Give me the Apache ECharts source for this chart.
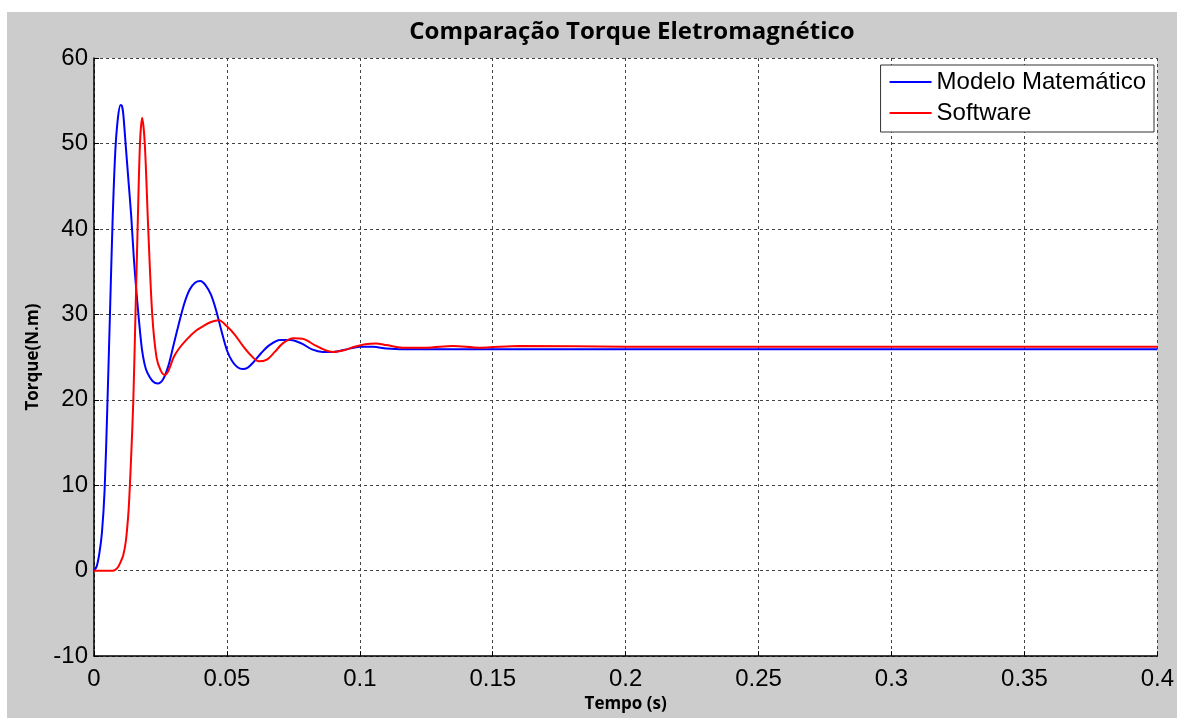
<!DOCTYPE html>
<html>
<head>
<meta charset="utf-8">
<script src="https://cdn.jsdelivr.net/npm/echarts@6/dist/echarts.min.js"></script>
<style>
  html, body { margin: 0; padding: 0; background: #fff; }
  #chart { position: absolute; left: 7px; top: 12px; width: 1170px; height: 706px; background: #cccccc; }
</style>
</head>
<body>
<div id="chart"></div>
<script>
// Modelo Matemático (blue)
const timeModelo = [0, 0.001, 0.002, 0.003, 0.004, 0.005, 0.006, 0.007, 0.008, 0.009, 0.010, 0.0105, 0.011,
  0.012, 0.013, 0.014, 0.015, 0.016, 0.017, 0.018, 0.019, 0.020, 0.022, 0.024, 0.026, 0.028, 0.030,
  0.032, 0.034, 0.036, 0.038, 0.040, 0.042, 0.044, 0.046, 0.048, 0.050, 0.052, 0.054, 0.056, 0.058,
  0.060, 0.063, 0.066, 0.070, 0.074, 0.078, 0.082, 0.086, 0.090, 0.095, 0.100, 0.105, 0.110, 0.120,
  0.150, 0.200, 0.300, 0.400];
const torqueModelo = [0, 0.5, 2, 4.5, 9.5, 19, 30, 41, 49, 53, 54.5, 54.4, 53.5,
  49.5, 45.5, 41.5, 36.5, 32.5, 29, 26, 24.2, 23.2, 22.2, 21.9, 22.4, 24, 26.5,
  29, 31.3, 32.9, 33.7, 33.9, 33.4, 32.3, 30.4, 28, 25.8, 24.5, 23.8, 23.6, 23.8,
  24.4, 25.5, 26.4, 27.0, 27.0, 26.6, 25.9, 25.6, 25.6, 25.9, 26.2, 26.2, 26.0, 25.9,
  25.9, 25.9, 25.9, 25.9];

// Software (red)
const timeSoftware = [0, 0.007, 0.008, 0.009, 0.010, 0.011, 0.012, 0.013, 0.0135, 0.014, 0.0148, 0.0156,
  0.0164, 0.0173, 0.0181, 0.0191, 0.0204, 0.0219, 0.0235, 0.025, 0.0266, 0.028, 0.030, 0.032, 0.035,
  0.038, 0.041, 0.044, 0.047, 0.050, 0.053, 0.056, 0.059, 0.062, 0.065, 0.068, 0.071, 0.075, 0.079,
  0.083, 0.087, 0.090, 0.094, 0.098, 0.102, 0.106, 0.110, 0.116, 0.125, 0.135, 0.145, 0.160, 0.200,
  0.300, 0.400];
const torqueSoftware = [0, 0, 0.1, 0.4, 1, 1.8, 3.5, 7, 10, 13.5, 20, 30,
  40, 50, 53, 50, 40, 30, 25, 23.5, 22.9, 23.4, 25, 26, 27.1,
  28, 28.6, 29.1, 29.3, 28.6, 27.6, 26.3, 25.2, 24.5, 24.7, 25.6, 26.6, 27.2, 27.1,
  26.4, 25.8, 25.6, 25.8, 26.2, 26.5, 26.6, 26.4, 26.1, 26.1, 26.3, 26.1, 26.3, 26.2,
  26.2, 26.2];

const xTicks = { min: 0, max: 0.4, interval: 0.05 };
const yTicks = { min: -10, max: 60, interval: 10 };

const pairs = (xs, ys) => xs.map((x, i) => [x, ys[i]]);

const chart = echarts.init(document.getElementById('chart'));

const tickFont = { fontFamily: 'Liberation Sans', fontSize: 24, color: '#000' };
const nameFont = { fontFamily: 'Open Sans', fontWeight: 'bold', fontSize: 17, color: '#000' };
const gridLine = { show: true, lineStyle: { color: '#444', type: [3, 3], width: 1 } };

chart.setOption({
  animation: false,
  title: {
    text: 'Comparação Torque Eletromagnético',
    left: 620,
    textAlign: 'center',
    top: 3,
    textStyle: { fontFamily: 'Open Sans', fontWeight: 'bold', fontSize: 24, color: '#000' }
  },
  legend: {
    orient: 'vertical',
    right: 23,
    top: 53,
    data: ['Modelo Matemático', 'Software'],
    icon: 'rect',
    itemWidth: 42,
    itemHeight: 2,
    itemGap: 5,
    padding: [4, 8, 6, 9],
    backgroundColor: '#fff',
    borderColor: '#333',
    borderWidth: 1,
    borderRadius: 0,
    textStyle: { fontFamily: 'Liberation Sans', fontSize: 24, color: '#000', lineHeight: 26 }
  },
  grid: {
    left: 87, top: 46, right: 17, bottom: 60,
    show: true, backgroundColor: '#fff', borderWidth: 0
  },
  xAxis: {
    type: 'value',
    min: xTicks.min, max: xTicks.max, interval: xTicks.interval,
    name: 'Tempo (s)',
    nameLocation: 'middle',
    nameGap: 36,
    nameTextStyle: nameFont,
    axisLine: { show: true, onZero: false, lineStyle: { color: '#000', width: 1.5 } },
    axisTick: { show: true, inside: true, length: 5, lineStyle: { color: '#000' } },
    axisLabel: Object.assign({ margin: 11 }, tickFont),
    splitLine: gridLine
  },
  yAxis: {
    type: 'value',
    min: yTicks.min, max: yTicks.max, interval: yTicks.interval,
    name: 'Torque(N.m)',
    nameLocation: 'middle',
    nameGap: 52,
    nameTextStyle: nameFont,
    axisLine: { show: true, onZero: false, lineStyle: { color: '#000', width: 1.5 } },
    axisTick: { show: true, inside: true, length: 5, lineStyle: { color: '#000' } },
    axisLabel: Object.assign({ margin: 6 }, tickFont),
    splitLine: gridLine
  },
  series: [
    {
      name: 'Modelo Matemático',
      type: 'line',
      data: pairs(timeModelo, torqueModelo),
      showSymbol: false,
      smooth: 0.3,
      lineStyle: { color: '#0000ff', width: 2 },
      itemStyle: { color: '#0000ff' }
    },
    {
      name: 'Software',
      type: 'line',
      data: pairs(timeSoftware, torqueSoftware),
      showSymbol: false,
      smooth: 0.3,
      lineStyle: { color: '#ff0000', width: 2 },
      itemStyle: { color: '#ff0000' }
    }
  ]
});
</script>
</body>
</html>
